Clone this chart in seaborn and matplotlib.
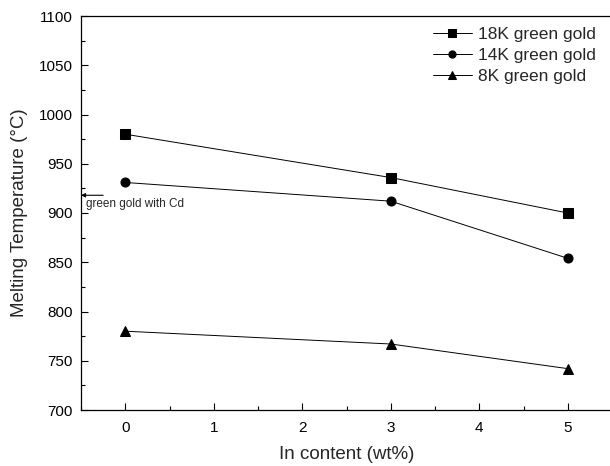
import matplotlib
matplotlib.use("Agg")
import matplotlib.pyplot as plt
import seaborn as sns
import pandas as pd
from matplotlib.ticker import MultipleLocator

sns.set_theme(style="ticks")
plt.rcParams['font.family'] = ['Liberation Sans', 'DejaVu Sans']

in_content = [0, 3, 5]
k18 = [980, 936, 900]
k14 = [931, 912, 854]
k8 = [780, 767, 742]
series_names = ["18K green gold", "14K green gold", "8K green gold"]
markers = ["s", "o", "^"]
cd_level = 918
cd_label = "green gold with Cd"

rows = []
for name, vals in zip(series_names, [k18, k14, k8]):
    for x, v in zip(in_content, vals):
        rows.append({"x": x, "T": v, "alloy": name})
df = pd.DataFrame(rows)

fig = plt.figure(figsize=(6.10, 4.66), dpi=100)
ax = fig.add_axes([81/610, 1-410/466, (612-81)/610, (410-16)/466])

sns.lineplot(data=df, x="x", y="T", hue="alloy", style="alloy",
             palette=["black"]*3, markers=markers, dashes=False,
             markersize=6.5, linewidth=0.7, markeredgecolor="black", ax=ax)

ax.set_xlim(-0.5, 5.5)
ax.set_ylim(700, 1100)
ax.xaxis.set_major_locator(MultipleLocator(1))
ax.xaxis.set_minor_locator(MultipleLocator(0.5))
ax.yaxis.set_major_locator(MultipleLocator(50))
ax.yaxis.set_minor_locator(MultipleLocator(25))
ax.tick_params(which="both", direction="in", colors="black", labelsize=11)
ax.tick_params(which="major", length=5, width=0.8)
ax.tick_params(which="minor", length=3, width=0.8)
ax.tick_params(axis="x", pad=8)
ax.tick_params(axis="y", pad=6)
for s in ["left", "bottom", "top"]:
    ax.spines[s].set_color("black")
    ax.spines[s].set_linewidth(0.9)
ax.spines["right"].set_visible(False)

ax.set_xlabel("In content (wt%)", fontsize=13.5, labelpad=8)
ax.set_ylabel("Melting Temperature (°C)", fontsize=13.5, labelpad=8)

ax.annotate("", xy=(-0.5, cd_level), xytext=(-0.25, cd_level),
            arrowprops=dict(arrowstyle="-|>", color="black", lw=0.8,
                            mutation_scale=6, shrinkA=0, shrinkB=0))
ax.text(-0.44, cd_level - 3, cd_label, fontsize=8.5, va="top", ha="left")

leg = ax.legend(loc="upper right", bbox_to_anchor=(1.0, 1.012), frameon=False,
                fontsize=12.5, handlelength=2.2, labelspacing=0.33, handletextpad=0.4,
                markerscale=0.8)

fig.savefig("out.png", dpi=100)
